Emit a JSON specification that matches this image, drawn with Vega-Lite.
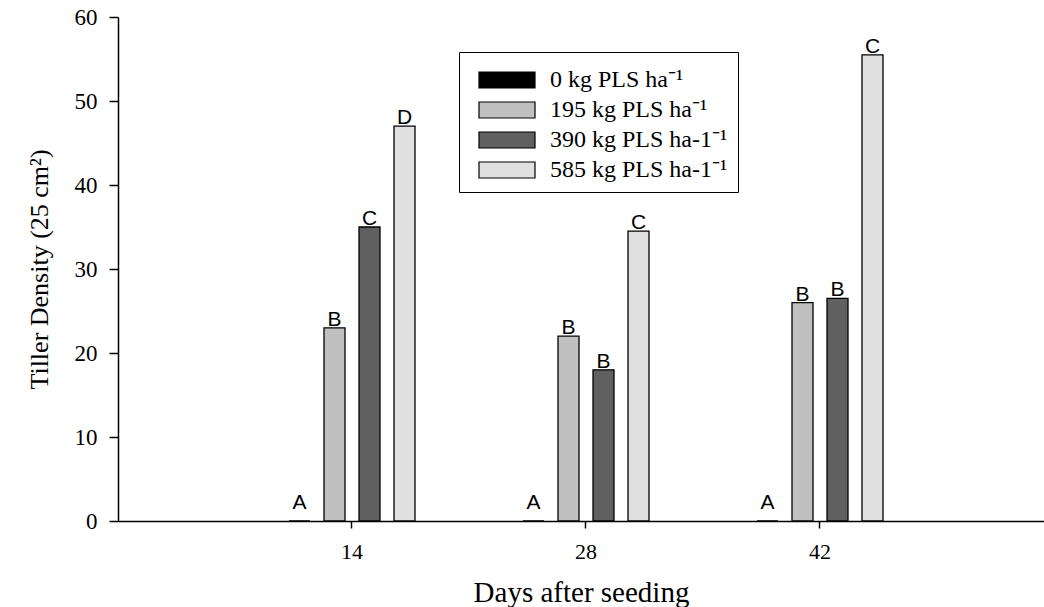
{
  "$schema": "https://vega.github.io/schema/vega-lite/v6.json",
  "width": 926,
  "height": 504,
  "autosize": {"type": "none"},
  "padding": {"left": 118, "top": 17, "right": 0, "bottom": 86},
  "background": "white",
  "config": {"view": {"stroke": null}, "font": "Liberation Serif"},
  "data": {
    "values": [
      {"day": "14", "treatment": "0 kg PLS ha⁻¹", "density": 0, "letter": "A"},
      {"day": "14", "treatment": "195 kg PLS ha⁻¹", "density": 23, "letter": "B"},
      {"day": "14", "treatment": "390 kg PLS ha-1⁻¹", "density": 35, "letter": "C"},
      {"day": "14", "treatment": "585 kg PLS ha-1⁻¹", "density": 47, "letter": "D"},
      {"day": "28", "treatment": "0 kg PLS ha⁻¹", "density": 0, "letter": "A"},
      {"day": "28", "treatment": "195 kg PLS ha⁻¹", "density": 22, "letter": "B"},
      {"day": "28", "treatment": "390 kg PLS ha-1⁻¹", "density": 18, "letter": "B"},
      {"day": "28", "treatment": "585 kg PLS ha-1⁻¹", "density": 34.5, "letter": "C"},
      {"day": "42", "treatment": "0 kg PLS ha⁻¹", "density": 0, "letter": "A"},
      {"day": "42", "treatment": "195 kg PLS ha⁻¹", "density": 26, "letter": "B"},
      {"day": "42", "treatment": "390 kg PLS ha-1⁻¹", "density": 26.5, "letter": "B"},
      {"day": "42", "treatment": "585 kg PLS ha-1⁻¹", "density": 55.5, "letter": "C"}
    ]
  },
  "encoding": {
    "x": {
      "field": "day",
      "type": "nominal",
      "scale": {"type": "band", "domain": ["14", "28", "42"], "paddingInner": 0.162393, "paddingOuter": 0.559829, "align": 0.51908},
      "axis": {
        "title": "Days after seeding",
        "labelAngle": 0,
        "labelFont": "Liberation Serif",
        "labelFontSize": 22,
        "labelColor": "black",
        "labelPadding": 13,
        "tickSize": 7,
        "tickColor": "black",
        "tickWidth": 1.5,
        "domainColor": "black",
        "domainWidth": 1.5,
        "titleFont": "Liberation Serif",
        "titleFontSize": 29,
        "titleFontWeight": "normal",
        "titleColor": "black",
        "titlePadding": 16
      }
    },
    "xOffset": {
      "field": "treatment",
      "type": "nominal",
      "scale": {
        "domain": ["0 kg PLS ha⁻¹", "195 kg PLS ha⁻¹", "390 kg PLS ha-1⁻¹", "585 kg PLS ha-1⁻¹"],
        "paddingInner": 0.4,
        "paddingOuter": 1
      }
    },
    "y": {
      "field": "density",
      "type": "quantitative",
      "scale": {"domain": [0, 60], "nice": false},
      "axis": {
        "title": "Tiller Density (25 cm²)",
        "values": [0, 10, 20, 30, 40, 50, 60],
        "grid": false,
        "labelFont": "Liberation Serif",
        "labelFontSize": 23,
        "labelColor": "black",
        "labelPadding": 12,
        "tickSize": 9,
        "tickColor": "black",
        "tickWidth": 1.5,
        "domainColor": "black",
        "domainWidth": 1.5,
        "titleFont": "Liberation Serif",
        "titleFontSize": 26,
        "titleFontWeight": "normal",
        "titleColor": "black",
        "titlePadding": 22
      }
    }
  },
  "layer": [
    {
      "mark": {"type": "bar", "stroke": "black", "strokeWidth": 1.3},
      "encoding": {
        "color": {
          "field": "treatment",
          "type": "nominal",
          "scale": {
            "domain": ["0 kg PLS ha⁻¹", "195 kg PLS ha⁻¹", "390 kg PLS ha-1⁻¹", "585 kg PLS ha-1⁻¹"],
            "range": ["#000000", "#c0c0c0", "#606060", "#e0e0e0"]
          },
          "legend": {
            "orient": "none",
            "legendX": 341,
            "legendY": 35,
            "title": null,
            "strokeColor": "black",
            "fillColor": "white",
            "padding": 10,
            "symbolOffset": 20,
            "symbolType": "M-1.647,-0.47H1.647V0.47H-1.647Z",
            "symbolSize": 1156,
            "symbolStrokeColor": "black",
            "symbolStrokeWidth": 1.2,
            "symbolOpacity": 1,
            "labelFont": "Liberation Serif",
            "labelFontSize": 24,
            "labelColor": "black",
            "labelOffset": 25,
            "labelLimit": 400,
            "rowPadding": 0
          }
        }
      }
    },
    {
      "transform": [{"filter": "datum.density > 0"}],
      "mark": {"type": "text", "font": "Liberation Sans", "fontSize": 21, "dy": -2, "baseline": "alphabetic", "color": "black"},
      "encoding": {"text": {"field": "letter"}}
    },
    {
      "transform": [{"filter": "datum.density == 0"}],
      "mark": {"type": "text", "font": "Liberation Sans", "fontSize": 21, "dy": -12, "baseline": "alphabetic", "color": "black"},
      "encoding": {"text": {"field": "letter"}}
    }
  ]
}
